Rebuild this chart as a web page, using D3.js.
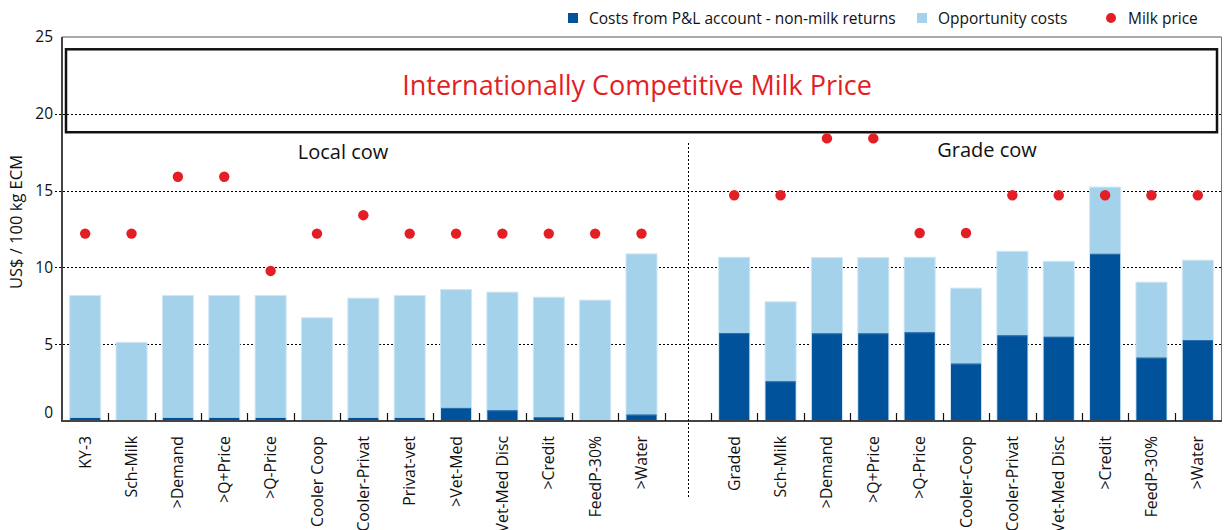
<!DOCTYPE html>
<html><head><meta charset="utf-8">
<script src="https://cdn.jsdelivr.net/npm/d3@7"></script>
<style>body{margin:0;background:#fff}svg{display:block;font-family:"Open Sans",sans-serif}</style>
</head><body><svg id="c" width="1229" height="530"></svg>
<script>
const categoriesLocal = ["KY-3","Sch-Milk",">Demand",">Q+Price",">Q-Price","Cooler Coop","Cooler-Privat","Privat-vet",">Vet-Med","Vet-Med Disc",">Credit","FeedP-30%",">Water"];
const categoriesGrade = ["Graded","Sch-Milk",">Demand",">Q+Price",">Q-Price","Cooler-Coop","Cooler-Privat","Vet-Med Disc",">Credit","FeedP-30%",">Water"];
const pnlLocal = [0.2,0.05,0.2,0.2,0.2,0.05,0.2,0.2,0.85,0.69,0.24,0.05,0.41];
const oppLocal = [7.97,5.07,7.97,7.97,7.97,6.67,7.8,7.97,7.71,7.7,7.82,7.82,10.47];
const milkLocal = [12.2,12.2,15.9,15.9,9.77,12.2,13.4,12.2,12.2,12.2,12.2,12.2,12.2];
const pnlGrade = [5.72,2.58,5.7,5.7,5.77,3.73,5.57,5.48,10.88,4.12,5.27];
const oppGrade = [4.94,5.18,4.94,4.94,4.89,4.92,5.48,4.92,4.35,4.92,5.2];
const milkGrade = [14.7,14.7,18.4,18.4,12.24,12.24,14.7,14.7,14.7,14.7,14.7];
const yTicks = [0,5,10,15,20,25];
const groupLabels = ["Local cow","Grade cow"];
const bandTitle = "Internationally Competitive Milk Price";
const bandRange = [18.8,24.2];
const seriesNames = ["Costs from P&L account - non-milk returns","Opportunity costs","Milk price"];
const yTitle = "US$ / 100 kg ECM";

const C_DARK="#00529b", C_LIGHT="#a5d2eb", C_RED="#e31e24";
const svg=d3.select("#c");
const L=62,R=1221,T=37,B=421;

const rows=[];
categoriesLocal.forEach((c,i)=>rows.push({key:"L"+i,cat:c,pnl:pnlLocal[i],opp:oppLocal[i],milk:milkLocal[i]}));
rows.push({key:"gap",cat:"",gap:true});
categoriesGrade.forEach((c,i)=>rows.push({key:"G"+i,cat:c,pnl:pnlGrade[i],opp:oppGrade[i],milk:milkGrade[i]}));

const x=d3.scaleBand().domain(rows.map(d=>d.key)).range([L,R]).paddingInner(0.33).paddingOuter(0.165);
const y=d3.scaleLinear().domain([0,25]).range([B,T]);
const step=x.step();

// grid
svg.append("g").selectAll("line").data(yTicks.filter(t=>t>0&&t<25)).join("line")
  .attr("x1",55).attr("x2",R).attr("y1",d=>Math.round(y(d))+0.5).attr("y2",d=>Math.round(y(d))+0.5)
  .attr("stroke","#000").attr("stroke-width",1).attr("stroke-dasharray","2,2");

// y tick labels
svg.append("g").selectAll("text").data(yTicks).join("text")
  .attr("x",53).attr("y",d=>y(d)+(d===0?-8:0)).attr("dy","0.35em").attr("text-anchor","end")
  .attr("font-size",15.5).attr("fill","#111").text(d=>d);

// y title
svg.append("text").attr("transform","translate(16,222) rotate(-90)").attr("text-anchor","middle")
  .attr("dy","0.35em").attr("font-size",16.5).attr("fill","#111").text(yTitle);

// frame
svg.append("line").attr("x1",L).attr("x2",R+0.5).attr("y1",T).attr("y2",T).attr("stroke","#555").attr("stroke-width",1);
svg.append("line").attr("x1",R+0.5).attr("x2",R+0.5).attr("y1",T).attr("y2",B).attr("stroke","#777").attr("stroke-width",1);

// band box
svg.append("rect").attr("x",66).attr("y",y(bandRange[1])).attr("width",R-4-66).attr("height",y(bandRange[0])-y(bandRange[1]))
  .attr("fill","none").attr("stroke","#111").attr("stroke-width",2.5);
svg.append("text").attr("x",637).attr("y",95).attr("text-anchor","middle").attr("font-size",27).attr("fill",C_RED).text(bandTitle);

// bars
const data=rows.filter(d=>!d.gap);
svg.append("g").selectAll("rect").data(data).join("rect")
  .attr("x",d=>x(d.key)).attr("width",x.bandwidth())
  .attr("y",d=>y(d.pnl+d.opp)).attr("height",d=>y(0)-y(d.pnl+d.opp))
  .attr("fill",C_LIGHT).attr("stroke","#cfe7f6").attr("stroke-width",1);
svg.append("g").selectAll("rect").data(data).join("rect")
  .attr("x",d=>x(d.key)+0.5).attr("width",x.bandwidth()-1)
  .attr("y",d=>y(d.pnl)).attr("height",d=>y(0)-y(d.pnl))
  .attr("fill",C_DARK);
svg.append("g").selectAll("line").data(data.filter(d=>d.pnl>0.3)).join("line")
  .attr("x1",d=>x(d.key)+0.5).attr("x2",d=>x(d.key)+x.bandwidth()-0.5)
  .attr("y1",d=>y(d.pnl)+0.5).attr("y2",d=>y(d.pnl)+0.5).attr("stroke","#2f6fae").attr("stroke-width",1);

// axis
svg.append("line").attr("x1",L).attr("x2",L).attr("y1",T).attr("y2",B+1).attr("stroke","#444").attr("stroke-width",2);
svg.append("line").attr("x1",L).attr("x2",R+1).attr("y1",B).attr("y2",B).attr("stroke","#444").attr("stroke-width",2);
const bounds=rows.slice(1).map(d=>x(d.key)-x.paddingInner()*step/2);
svg.append("g").selectAll("line").data(bounds).join("line")
  .attr("x1",d=>Math.round(d)+0.5).attr("x2",d=>Math.round(d)+0.5).attr("y1",B-8).attr("y2",B)
  .attr("stroke","#111").attr("stroke-width",1.2);

// divider
const gx=x("gap")+x.bandwidth()/2;
svg.append("line").attr("x1",Math.round(gx)+0.5).attr("x2",Math.round(gx)+0.5).attr("y1",143).attr("y2",497)
  .attr("stroke","#000").attr("stroke-dasharray","2,2");

// dots
svg.append("g").selectAll("circle").data(data).join("circle")
  .attr("cx",d=>x(d.key)+x.bandwidth()/2).attr("cy",d=>y(d.milk)).attr("r",5.2).attr("fill",C_RED);

// x labels
svg.append("g").selectAll("text").data(data).join("text")
  .attr("transform",d=>`translate(${x(d.key)+x.bandwidth()/2},436) rotate(-90)`)
  .attr("text-anchor","end").attr("dy","0.35em").attr("font-size",15.8).attr("fill","#111").text(d=>d.cat);

// group labels
svg.append("text").attr("x",343).attr("y",159).attr("text-anchor","middle").attr("font-size",20).attr("fill","#111").text(groupLabels[0]);
svg.append("text").attr("x",987).attr("y",157).attr("text-anchor","middle").attr("font-size",20).attr("fill","#111").text(groupLabels[1]);

// legend
const lg=svg.append("g").attr("font-size",15.5).attr("fill","#111");
lg.append("rect").attr("x",568).attr("y",13).attr("width",10).attr("height",10).attr("fill",C_DARK);
lg.append("text").attr("x",589).attr("y",24).text(seriesNames[0]);
lg.append("rect").attr("x",917).attr("y",13).attr("width",10).attr("height",10).attr("fill",C_LIGHT);
lg.append("text").attr("x",938).attr("y",24).text(seriesNames[1]);
lg.append("circle").attr("cx",1111).attr("cy",18).attr("r",5).attr("fill",C_RED);
lg.append("text").attr("x",1128).attr("y",24).text(seriesNames[2]);
</script></body></html>
